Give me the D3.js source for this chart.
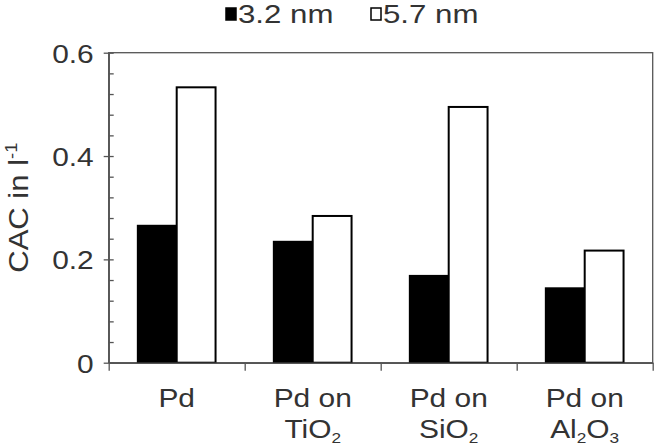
<!DOCTYPE html>
<html>
<head>
<meta charset="utf-8">
<script src="https://cdn.jsdelivr.net/npm/d3@7"></script>
<style>
  body { margin: 0; background: #fff; }
  text { font-family: "Liberation Sans", Arial, sans-serif; fill: #333; }
</style>
</head>
<body>
<div id="chart"></div>
<script>
const categories = ["Pd", "Pd on TiO2", "Pd on SiO2", "Pd on Al2O3"];
const labelLine1 = ["Pd", "Pd on", "Pd on", "Pd on"];
const labelLine2 = ["", "TiO_2", "SiO_2", "Al_2O_3"];
const seriesNames = ["3.2 nm", "5.7 nm"];
const small = [0.265, 0.234, 0.168, 0.144];
const large = [0.533, 0.284, 0.495, 0.217];
const majorTicks = [0, 0.2, 0.4, 0.6];

const width = 656, height = 448;
const margin = {top: 52.7, right: 3.3, bottom: 85.3, left: 108.7};
const sx = 1.15; // glyphs in the picture are a bit wider than Arial

let svg = d3.select("#chart").append("svg")
  .attr("width", width)
  .attr("height", height);

let x0 = d3.scaleBand()
  .domain(categories)
  .range([margin.left, width - margin.right])
  .padding(0);

let x1 = d3.scaleBand()
  .domain(seriesNames)
  .range([0, x0.bandwidth()])
  .paddingInner(0)
  .paddingOuter(0.75);

let y = d3.scaleLinear()
  .domain([0, 0.6])
  .range([height - margin.bottom, margin.top]);

let color = d3.scaleOrdinal().domain(seriesNames).range(["#000", "#fff"]);

// plot frame (top and right edges)
svg.append("rect")
  .attr("x", margin.left)
  .attr("y", margin.top)
  .attr("width", width - margin.left - margin.right)
  .attr("height", height - margin.top - margin.bottom)
  .attr("fill", "none")
  .attr("stroke", "#555")
  .attr("stroke-width", 1.3);

// bars
let rows = categories.map((c, i) => ({cat: c, values: [small[i], large[i]]}));
let groups = svg.selectAll(".grp")
  .data(rows)
  .enter().append("g")
  .attr("class", "grp")
  .attr("transform", d => "translate(" + x0(d.cat) + ",0)");

groups.selectAll("rect")
  .data(d => d.values.map((v, j) => ({key: seriesNames[j], value: v})))
  .enter().append("rect")
  .attr("x", d => x1(d.key))
  .attr("y", d => y(d.value))
  .attr("width", x1.bandwidth())
  .attr("height", d => y(0) - y(d.value))
  .attr("fill", d => color(d.key))
  .attr("stroke", "#000")
  .attr("stroke-width", 2);

// y axis: major ticks cross outward, minor ticks inward
let yMinor = d3.axisLeft(y)
  .tickValues(d3.range(0, 0.6001, 0.04))
  .tickSizeInner(-5)
  .tickSizeOuter(0)
  .tickFormat("");
let yMajor = d3.axisLeft(y)
  .tickValues(majorTicks)
  .tickSizeInner(5)
  .tickSizeOuter(0)
  .tickPadding(10)
  .tickFormat(d => d === 0 ? "0" : d3.format(".1f")(d));

svg.append("g")
  .attr("transform", "translate(" + margin.left + ",0)")
  .call(yMinor)
  .call(g => g.select(".domain").remove())
  .call(g => g.selectAll("line").attr("stroke", "#555").attr("stroke-width", 1.3));

let yAxisG = svg.append("g")
  .attr("transform", "translate(" + margin.left + ",0)")
  .call(yMajor);
yAxisG.select(".domain").attr("stroke", "#555").attr("stroke-width", 1.5);
yAxisG.selectAll("line").attr("stroke", "#555").attr("stroke-width", 1.3);
yAxisG.selectAll("text")
  .attr("font-size", 26)
  .attr("fill", "#333")
  .attr("font-family", "Liberation Sans, Arial, sans-serif")
  .attr("dy", "0.36em")
  .attr("transform", function() {
    let tx = +d3.select(this).attr("x");
    return "translate(" + tx + ",0) scale(" + sx + ",1) translate(" + (-tx) + ",0)";
  });

// x axis: ticks on category boundaries
let xb = d3.scaleLinear().domain([0, categories.length]).range(x0.range());
let xAxisG = svg.append("g")
  .attr("transform", "translate(0," + y(0) + ")")
  .call(d3.axisBottom(xb).ticks(categories.length).tickSize(8).tickSizeOuter(0).tickFormat(""));
xAxisG.select(".domain").attr("stroke", "#555").attr("stroke-width", 1.5);
xAxisG.selectAll("line").attr("stroke", "#555").attr("stroke-width", 1.3);

// category labels, with subscripts written as _n
function addRich(textSel, str, subSize) {
  str.split(/(_\d)/).filter(s => s.length).forEach(part => {
    if (part[0] === "_") {
      textSel.append("tspan").attr("font-size", subSize).attr("dy", 5).text(part.slice(1));
    } else {
      let t = textSel.append("tspan").text(part);
      if (textSel.selectAll("tspan").size() > 1) t.attr("dy", -5);
    }
  });
}

let labels = svg.append("g").attr("class", "x-labels");
categories.forEach((c, i) => {
  let cx = x0(c) + x0.bandwidth() / 2;
  let g = labels.append("g").attr("transform", "translate(" + cx + ",0) scale(" + sx + ",1)");
  g.append("text")
    .attr("y", 407)
    .attr("text-anchor", "middle")
    .attr("font-size", 26)
    .text(labelLine1[i]);
  if (labelLine2[i]) {
    let t = g.append("text")
      .attr("y", 438)
      .attr("text-anchor", "middle")
      .attr("font-size", 26);
    addRich(t, labelLine2[i], 15);
  }
});

// y axis title
let yt = svg.append("text")
  .attr("transform", "translate(28," + ((margin.top + y(0)) / 2) + ") rotate(-90) scale(" + sx + ",1)")
  .attr("text-anchor", "middle")
  .attr("font-size", 27);
yt.append("tspan").text("CAC in l");
yt.append("tspan").attr("font-size", 16).attr("dy", -11).text("-1");

// legend
let legend = svg.append("g").attr("class", "legend");
let legendX = [225, 370];
seriesNames.forEach((s, i) => {
  let g = legend.append("g").attr("transform", "translate(" + legendX[i] + ",0)");
  g.append("rect")
    .attr("x", 1)
    .attr("y", 8)
    .attr("width", 10)
    .attr("height", 12)
    .attr("fill", color(s))
    .attr("stroke", "#000")
    .attr("stroke-width", 1.5);
  g.append("text")
    .attr("transform", "translate(13,23) scale(1.25,1)")
    .attr("font-size", 25)
    .text(s);
});
</script>
</body>
</html>
